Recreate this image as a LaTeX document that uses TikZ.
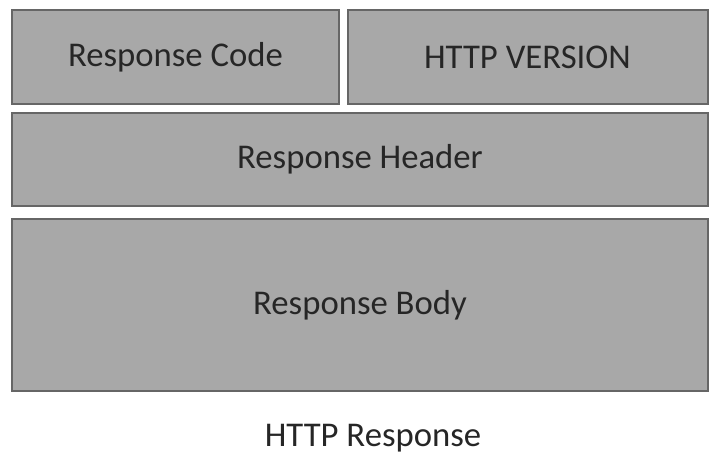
\documentclass[tikz,border=0pt]{standalone}
\usepackage{fontspec}
\setmainfont{Carlito}
\begin{document}
\begin{tikzpicture}[x=1pt,y=-1pt,
  part/.style={draw=black!60, fill=black!34, line width=2pt, inner sep=0pt, text=black!85, font=\fontsize{34.7}{40}\selectfont},
  note/.style={text=black!85, font=\fontsize{34.7}{40}\selectfont}
]
\useasboundingbox (0,0) rectangle (710,459);
\node[part, minimum width=327pt, minimum height=94pt] (code) at (175.5,57) {Response Code};
\node[part, minimum width=360pt, minimum height=94pt] (version) at (527.5,57) {HTTP VERSION};
\node[part, minimum width=696pt, minimum height=93pt] (header) at (360,159.5) {Response Header};
\node[part, minimum width=696pt, minimum height=172pt] (body) at (360,305) {Response Body};
\node[note] (title) at (373,438) {HTTP Response};
\end{tikzpicture}
\end{document}
